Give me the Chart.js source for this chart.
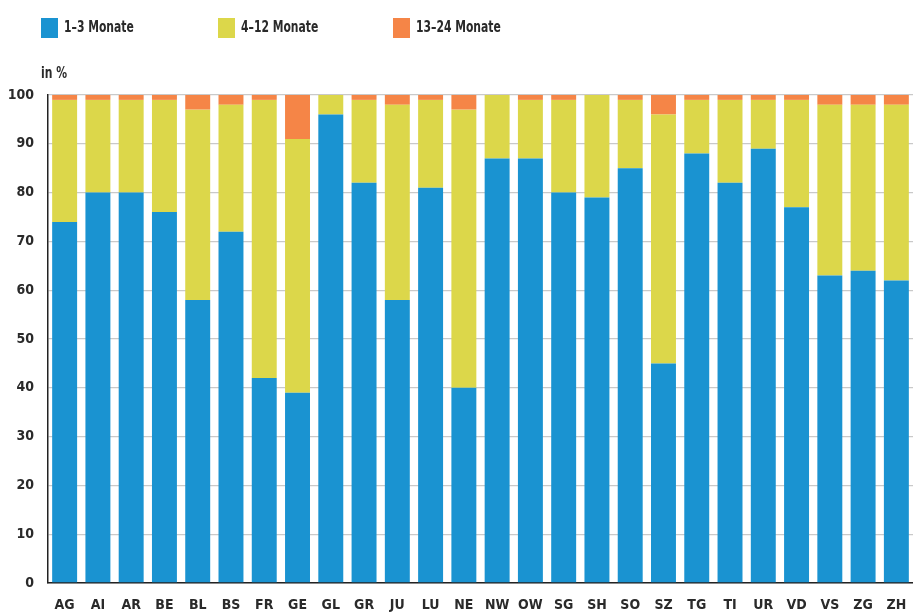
<!DOCTYPE html>
<html>
<head>
<meta charset="utf-8">
<script src="https://cdn.jsdelivr.net/npm/chart.js@4/dist/chart.umd.min.js"></script>
<style>
  body { margin: 0; background: #fff; overflow: hidden; }
  #wrap { position: relative; width: 913px; height: 612px; }
  .lbl { position: absolute; font: bold 15px "DejaVu Sans Condensed", "Liberation Sans Narrow", sans-serif; color: #2a2a2a; white-space: nowrap; transform-origin: 0 0; transform: scaleX(0.8); }
  .box { position: absolute; width: 17px; height: 20px; }
</style>
</head>
<body>
<div id="wrap">
  <canvas id="chart"></canvas>
</div>
<script>
  const cantons = ['AG', 'AI', 'AR', 'BE', 'BL', 'BS', 'FR', 'GE', 'GL', 'GR', 'JU', 'LU', 'NE',
    'NW', 'OW', 'SG', 'SH', 'SO', 'SZ', 'TG', 'TI', 'UR', 'VD', 'VS', 'ZG', 'ZH'];
  const m1to3 = [74, 80, 80, 76, 58, 72, 42, 39, 96, 82, 58, 81, 40, 87, 87, 80, 79, 85, 45, 88, 82, 89, 77, 63, 64, 62];
  const m4to12 = [25, 19, 19, 23, 39, 26, 57, 52, 4, 17, 40, 18, 57, 13, 12, 19, 21, 14, 51, 11, 17, 10, 22, 35, 34, 36];
  const m13to24 = [1, 1, 1, 1, 3, 2, 1, 9, 0, 1, 2, 1, 3, 0, 1, 1, 0, 1, 4, 1, 1, 1, 1, 2, 2, 2];
  const seriesNames = ['1–3 Monate', '4–12 Monate', '13–24 Monate'];
  const seriesColors = ['#1a93d1', '#dcd74a', '#f58547'];
  const yTicks = [0, 10, 20, 30, 40, 50, 60, 70, 80, 90, 100];

  const FONT = '"DejaVu Sans Condensed", "Liberation Sans Narrow", sans-serif';
  const wrap = document.getElementById('wrap');

  // legend + unit label as html
  const legendX = [41, 218, 393];
  seriesNames.forEach((name, i) => {
    const b = document.createElement('div');
    b.className = 'box';
    b.style.left = legendX[i] + 'px';
    b.style.top = '18px';
    b.style.background = seriesColors[i];
    wrap.appendChild(b);
    const t = document.createElement('div');
    t.className = 'lbl';
    t.style.left = (legendX[i] + 23) + 'px';
    t.style.top = '18px';
    t.textContent = name;
    wrap.appendChild(t);
  });
  const unit = document.createElement('div');
  unit.className = 'lbl';
  unit.style.left = '41px';
  unit.style.top = '64px';
  unit.textContent = 'in %';
  wrap.appendChild(unit);

  new Chart(document.getElementById('chart'), {
    type: 'bar',
    data: {
      labels: cantons,
      datasets: [m1to3, m4to12, m13to24].map((d, i) => ({
        label: seriesNames[i],
        data: d,
        backgroundColor: seriesColors[i],
        borderWidth: 0,
        barPercentage: 0.75,
        categoryPercentage: 1
      }))
    },
    options: {
      responsive: true,
      maintainAspectRatio: false,
      animation: false,
      layout: { padding: { top: 95, left: 0, right: 0, bottom: 0 } },
      plugins: { legend: { display: false }, tooltip: { enabled: false } },
      scales: {
        x: {
          stacked: true,
          grid: { display: false, drawTicks: false },
          border: { color: '#222', width: 1.5 },
          ticks: { color: '#2a2a2a', padding: 14, maxRotation: 0, font: { family: FONT, weight: 'bold', size: 14 } },
          afterFit: s => { s.height = 29; s.paddingLeft = 0; s.paddingRight = 0; }
        },
        y: {
          stacked: true,
          min: 0,
          max: 100,
          afterBuildTicks: s => { s.ticks = yTicks.map(v => ({ value: v })); },
          grid: { color: '#c9c9c9', lineWidth: 1.3, drawTicks: false },
          border: { color: '#222', width: 1.5 },
          ticks: { color: '#2a2a2a', padding: 14, font: { family: FONT, weight: 'bold', size: 14 } },
          afterFit: s => { s.width = 48; s.paddingTop = 0; s.paddingBottom = 0; }
        }
      }
    }
  });
</script>
</body>
</html>
